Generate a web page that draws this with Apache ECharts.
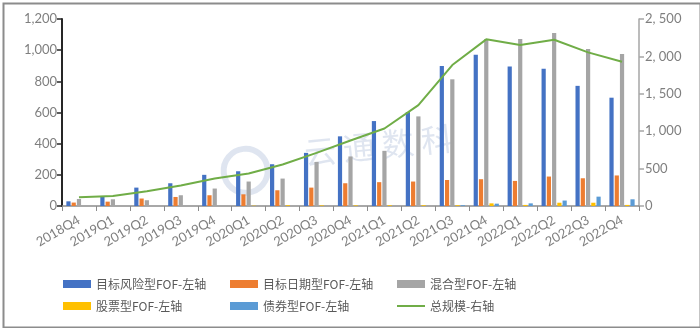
<!DOCTYPE html>
<html>
<head>
<meta charset="utf-8">
<script src="https://cdn.jsdelivr.net/npm/echarts@6/dist/echarts.min.js"></script>
<style>
  html, body { margin: 0; padding: 0; background: #fff; }
  #chart { width: 700px; height: 328px; }
</style>
</head>
<body>
<div id="chart"></div>
<script>
// Quarters on the category axis
const quarters = ['2018Q4', '2019Q1', '2019Q2', '2019Q3', '2019Q4', '2020Q1', '2020Q2', '2020Q3', '2020Q4',
  '2021Q1', '2021Q2', '2021Q3', '2021Q4', '2022Q1', '2022Q2', '2022Q3', '2022Q4'];

// Fund counts by type (left axis)
const targetRisk = [30, 60, 118, 146, 200, 223, 268, 341, 447, 545, 603, 899, 970, 895, 880, 771, 695];
const targetDate = [22, 28, 48, 58, 69, 75, 101, 118, 146, 153, 157, 167, 172, 161, 189, 178, 196];
const hybrid = [45, 43, 37, 69, 112, 157, 176, 283, 318, 354, 575, 813, 1071, 1071, 1110, 1007, 975];
const equity = [0, 0, 0, 0, 0, 2, 5, 4, 4, 5, 5, 5, 17, 7, 21, 21, 7];
const bond = [0, 0, 0, 0, 0, 0, 0, 0, 0, 0, 0, 5, 15, 17, 35, 60, 43];

// Total size (right axis)
const totalSize = [116, 134, 197, 273, 367, 434, 554, 710, 876, 1036, 1348, 1884, 2228, 2152, 2223, 2054, 1928];

// Axis ranges
const leftMax = 1200, leftStep = 200;
const rightMax = 2500, rightStep = 500;

const seriesNames = ['目标风险型FOF-左轴', '目标日期型FOF-左轴', '混合型FOF-左轴', '股票型FOF-左轴', '债券型FOF-左轴', '总规模-右轴'];
const colors = ['#4472C4', '#ED7D31', '#A5A5A5', '#FFC000', '#5B9BD5', '#70AD47'];

const thousands = (v, sep) => String(v).replace(/\B(?=(\d{3})+(?!\d))/g, sep);

const chart = echarts.init(document.getElementById('chart'));

const labelFont = { color: '#7F7F7F', fontSize: 13, fontFamily: 'Lato, "Noto Sans", sans-serif' };
const legendFont = { color: '#595959', fontSize: 12, fontFamily: '"Noto Sans CJK SC", sans-serif' };

const legendPos = [
  [63, 278], [230, 278], [397, 278],
  [63, 300], [230, 300], [397, 300]
];

const legends = seriesNames.map((name, i) => ({
  data: [name],
  left: legendPos[i][0],
  top: legendPos[i][1],
  itemWidth: 28,
  itemHeight: i === 5 ? 2 : 8,
  icon: 'rect',
  itemGap: 5,
  selectedMode: false,
  textStyle: legendFont,
  padding: 0
}));

const barData = [targetRisk, targetDate, hybrid, equity, bond];

const series = barData.map((d, i) => ({
  name: seriesNames[i],
  type: 'bar',
  yAxisIndex: 0,
  data: d,
  barWidth: 4.2,
  barGap: '25%',
  itemStyle: { color: colors[i] }
}));

series.push({
  name: seriesNames[5],
  type: 'line',
  yAxisIndex: 1,
  data: totalSize,
  symbol: 'none',
  lineStyle: { color: colors[5], width: 2 },
  itemStyle: { color: colors[5] },
  z: 5
});

chart.setOption({
  animation: false,
  backgroundColor: '#fff',
  grid: { left: 62, right: 61, top: 19, bottom: 122 },
  legend: legends,
  xAxis: {
    type: 'category',
    data: quarters,
    boundaryGap: true,
    axisLine: { lineStyle: { color: '#8C8C8C', width: 1.5 } },
    axisTick: { show: true, length: 5, lineStyle: { color: '#8C8C8C' } },
    axisLabel: Object.assign({ interval: 0, rotate: 30, margin: 13 }, labelFont)
  },
  yAxis: [
    {
      type: 'value',
      min: 0, max: leftMax, interval: leftStep,
      axisLine: { show: true, lineStyle: { color: '#262626', width: 2 } },
      axisTick: { show: true, length: 5, lineStyle: { color: '#262626', width: 1.5 } },
      splitLine: { show: false },
      axisLabel: Object.assign({ margin: 5, formatter: v => thousands(v, ',') }, labelFont)
    },
    {
      type: 'value',
      min: 0, max: rightMax, interval: rightStep,
      position: 'right',
      axisLine: { show: true, lineStyle: { color: '#A6A6A6', width: 1.5 } },
      axisTick: { show: true, length: 5, lineStyle: { color: '#A6A6A6', width: 1.5 } },
      splitLine: { show: false },
      axisLabel: Object.assign({ margin: 6, formatter: v => thousands(v, ', ') }, labelFont)
    }
  ],
  graphic: [
    {
      type: 'rect',
      left: 1, top: 1,
      shape: { x: 0, y: 0, width: 697, height: 324 },
      style: { fill: 'none', stroke: '#8C8C8C', lineWidth: 2 },
      silent: true
    },
    {
      type: 'group',
      left: 218, top: 122,
      rotation: 0.1,
      silent: true,
      z: 100,
      children: [
        {
          type: 'circle',
          shape: { cx: 32, cy: 40, r: 22 },
          style: { fill: 'none', stroke: 'rgba(150,170,205,0.3)', lineWidth: 6 }
        },
        {
          type: 'text',
          x: 92, y: 12,
          style: {
            text: '云 通 数 科',
            fill: 'rgba(150,170,205,0.3)',
            font: '32px "Noto Sans CJK SC", sans-serif'
          }
        }
      ]
    }
  ],
  series: series
});
</script>
</body>
</html>
